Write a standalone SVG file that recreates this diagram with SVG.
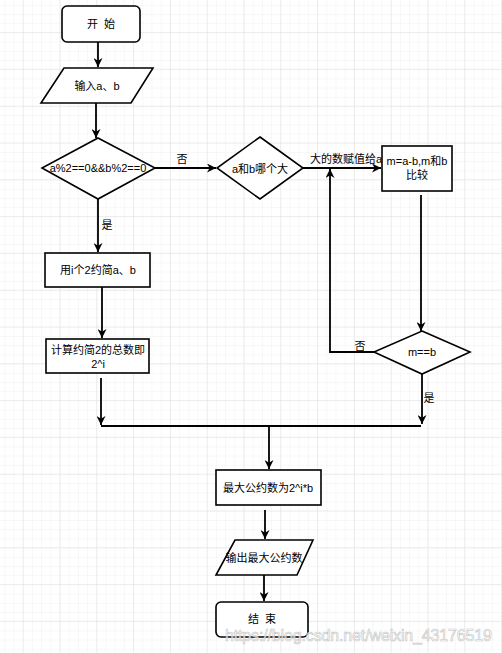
<svg xmlns="http://www.w3.org/2000/svg" width="502" height="653" viewBox="0 0 502 653">
<defs>
<pattern id="minor" width="9.2" height="9.2" patternUnits="userSpaceOnUse" x="4.3" y="4.8">
<path d="M0,0 H9.2 M0,0 V9.2" stroke="#f0f0f0" stroke-width="1" fill="none"/>
</pattern>
<pattern id="major" width="36.8" height="36.8" patternUnits="userSpaceOnUse" x="22.7" y="32">
<path d="M0,0 H36.8 M0,0 V36.8" stroke="#e0e0e0" stroke-width="1" fill="none"/>
</pattern>
<marker id="arr" viewBox="0 0 10 10" refX="10" refY="5" markerWidth="9" markerHeight="9" markerUnits="userSpaceOnUse" orient="auto">
<path d="M0,0 L10,5 L0,10 L3,5 z" fill="#000"/>
</marker>
</defs>
<style>
.s{fill:#fff;stroke:#000;stroke-width:1.6}
.t{font-family:"Liberation Sans","Noto Sans CJK SC",sans-serif;font-size:11px;fill:#000;text-anchor:middle}
.c{fill:none;stroke:#000;stroke-width:1.8}
.a{marker-end:url(#arr)}
.p{white-space:pre}
</style>
<rect width="502" height="653" fill="#fff"/>
<rect width="502" height="653" fill="url(#minor)"/>
<rect width="502" height="653" fill="url(#major)"/>

<g id="connectors">
<path class="c a" d="M98,42 V67"/>
<path class="c a" d="M96,103 V138"/>
<path class="c a" d="M155,168 H216"/>
<text class="t" x="182" y="163">否</text>
<path class="c a" d="M303,168 H381"/>
<text class="t" x="346" y="163">大的数赋值给a</text>
<path class="c a" d="M421,195 V331"/>
<path class="c a" d="M374,352 H330 V169"/>
<text class="t" x="360" y="350">否</text>
<path class="c a" d="M422,374 V424"/>
<text class="t" x="429" y="402">是</text>
<path class="c" d="M101,426 H421"/>
<path class="c a" d="M101,378 V425"/>
<path class="c a" d="M269,426 V469"/>
<path class="c a" d="M98,199 V252"/>
<text class="t" x="107" y="229">是</text>
<path class="c a" d="M102,287 V338"/>
<path class="c a" d="M265,510 V539"/>
<path class="c a" d="M264,575 V601"/>
</g>

<g id="start">
<rect class="s" x="62" y="6" width="78" height="36" rx="5"/>
<text class="t p" x="101" y="28">开  始</text>
</g>
<g id="input">
<polygon class="s" points="64,68 153,68 131,103 41,103"/>
<text class="t" x="97" y="90">输入a、b</text>
</g>
<g id="cond1">
<polygon class="s" points="98,138 155,168 98,199 42,168"/>
<text class="t" x="98" y="172" font-size="10.5">a%2==0&amp;&amp;b%2==0</text>
</g>
<g id="cond2">
<polygon class="s" points="260,137 303,168 260,199 217,168"/>
<text class="t" x="260" y="173">a和b哪个大</text>
</g>
<g id="sub">
<rect class="s" x="382" y="146" width="70" height="45"/>
<text class="t" x="417" y="165">m=a-b,m和b</text>
<text class="t" x="417" y="179">比较</text>
</g>
<g id="cond3">
<polygon class="s" points="422,331 470,352 422,374 374,352"/>
<text class="t" x="422" y="356">m==b</text>
</g>
<g id="reduce">
<rect class="s" x="45" y="253" width="105" height="34"/>
<text class="t" x="98" y="274">用i个2约简a、b</text>
</g>
<g id="count">
<rect class="s" x="46" y="339" width="103" height="34"/>
<text class="t" x="98" y="354">计算约简2的总数即</text>
<text class="t" x="98" y="368">2^i</text>
</g>
<g id="gcd">
<rect class="s" x="216" y="470" width="105" height="35"/>
<text class="t" x="268" y="492">最大公约数为2^i*b</text>
</g>
<g id="output">
<polygon class="s" points="235,540 313,540 297,575 216,575"/>
<text class="t" x="264" y="562">输出最大公约数</text>
</g>
<g id="end">
<rect class="s" x="216" y="602" width="92" height="35" rx="5"/>
<text class="t p" x="262" y="623">结  束</text>
</g>
<text x="225" y="641" font-family="Liberation Sans, sans-serif" font-size="16" textLength="267" fill="#ffffff" fill-opacity="0.7" stroke="#c4c4c4" stroke-width="0.6">https://blog.csdn.net/weixin_43176519</text>
</svg>
